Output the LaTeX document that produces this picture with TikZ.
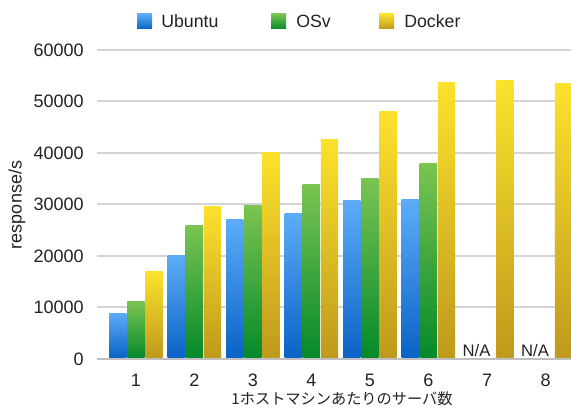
\documentclass[tikz,border=0pt]{standalone}
\usepackage{fontspec}
\setmainfont{Liberation Sans}
\newfontfamily\jpfont{Noto Sans CJK JP}

\definecolor{ubtop}{HTML}{5CACF7}
\definecolor{ubbot}{HTML}{0A62C6}
\definecolor{ostop}{HTML}{7AC452}
\definecolor{osbot}{HTML}{05892A}
\definecolor{dktop}{HTML}{FCE22C}
\definecolor{dkbot}{HTML}{BF991C}
\definecolor{gridgray}{HTML}{D4D4D4}
\definecolor{txt}{HTML}{222222}

\tikzset{
  gridline/.style={draw=gridgray, line width=1.5},
  baseline/.style={draw=gridgray!90!black, line width=2},
  ylab/.style={anchor=east, inner sep=0pt, text=txt, font=\fontsize{13.5}{15}\selectfont},
  xlab/.style={inner sep=0pt, text=txt, font=\fontsize{13.5}{15}\selectfont},
  legtext/.style={anchor=west, inner sep=0pt, text=txt, font=\fontsize{13.3}{15}\selectfont},
  nalab/.style={inner sep=0pt, text=txt, font=\fontsize{12.5}{14}\selectfont}
}

\begin{document}
\begin{tikzpicture}[x=0.75pt, y=0.75pt]
\useasboundingbox (0,0) rectangle (571,409);

% grid and axis
\foreach \v in {1,...,6}
  \draw[gridline] (97,{50+\v*51.5}) -- (571,{50+\v*51.5});
\draw[baseline] (97,50) -- (571,50);

% y labels
\node[ylab] (y0) at (84,50) {0};
\foreach \v in {1,...,6}
  \node[ylab] (y\v) at (84,{50+\v*51.5}) {\v0000};
\node[rotate=90, inner sep=0pt, text=txt, font=\fontsize{13.5}{15}\selectfont] (ytitle) at (17,204) {response/s};

% bars (ubuntu, osv, docker), values in thousands
\foreach \g/\val in {1/8.9, 2/20.0, 3/27.0, 4/28.3, 5/30.8, 6/31.0}
  \shade[top color=ubtop, bottom color=ubbot]
    ({109+(\g-1)*58.5},51) rectangle ++(17.3,{\val*5.15-1});
\foreach \g/\val in {1/11.2, 2/26.0, 3/29.9, 4/33.8, 5/35.0, 6/38.0}
  \shade[top color=ostop, bottom color=osbot]
    ({127.2+(\g-1)*58.5},51) rectangle ++(17.3,{\val*5.15-1});
\foreach \g/\val in {1/17.0, 2/29.7, 3/40.0, 4/42.7, 5/48.0, 6/53.7, 7/54.0, 8/53.4}
  \shade[top color=dktop, bottom color=dkbot]
    ({145.4+(\g-1)*58.5},51) rectangle ++(17.3,{\val*5.15-1});

% x labels
\foreach \g in {1,...,8}
  \node[xlab] (x\g) at ({136+(\g-1)*58.5},29) {\g};
\node[nalab] (na7) at ({125.5+6*58.5},58) {N/A};
\node[nalab] (na8) at ({125.5+7*58.5},58) {N/A};
\node[inner sep=0pt, text=txt, font=\jpfont\fontsize{11.4}{13}\selectfont] (xtitle) at (342,10) {1ホストマシンあたりのサーバ数};

% legend
\shade[top color=ubtop, bottom color=ubbot] (137,380) rectangle ++(15,15);
\node[legtext] (lub) at (161,387.5) {Ubuntu};
\shade[top color=ostop, bottom color=osbot] (271,380) rectangle ++(15,15);
\node[legtext] (los) at (296,387.5) {OSv};
\shade[top color=dktop, bottom color=dkbot] (379,380) rectangle ++(15,15);
\node[legtext] (ldk) at (404,387.5) {Docker};
\end{tikzpicture}
\end{document}
